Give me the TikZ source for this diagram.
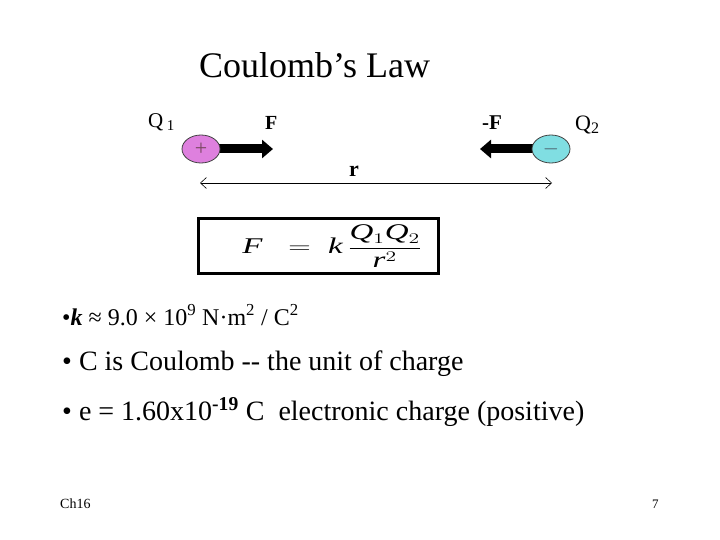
\documentclass[tikz,border=0pt]{standalone}
\usepackage{fontspec}
\setmainfont{Liberation Serif}
\usetikzlibrary{arrows.meta,positioning,shapes.geometric}

\definecolor{qpos}{RGB}{222,128,222}
\definecolor{qneg}{RGB}{128,222,226}
\newcommand{\fsz}[1]{\fontsize{#1}{#1}\selectfont}

\begin{document}
\begin{tikzpicture}[
    x=1pt, y=-1pt,
    txt/.style={inner sep=0pt, anchor=base west},
    charge/.style={ellipse, draw=black!75, line width=0.8pt, minimum width=38pt, minimum height=28pt, inner sep=0pt, font=\fsz{22}},
    force/.style={line width=9pt, -{Triangle[length=11pt,width=18pt]}},
    lbl/.style={txt, font=\fsz{20}\bfseries},
    qlbl/.style={txt, font=\fsz{21}},
    bullet/.style={txt, font=\fsz{28}}
  ]
  \useasboundingbox (0,0) rectangle (720,540);

  % title
  \node[txt, font=\fsz{36}] (title) at (199,78) {Coulomb’s Law};

  % the two charges
  \coordinate (f1tip) at (273,149);
  \coordinate (f2tip) at (480,149);
  \draw[force] (201,149) -- (f1tip);
  \draw[force] (551,149) -- (f2tip);
  \node[charge, fill=qpos, text=black!60!magenta] (q1) at (201,149) {+};
  \node[charge, fill=qneg, text=black!70!cyan] (q2) at (551,149) {$-$};

  \node[qlbl] (q1lbl) at (148,128) {Q\,\raisebox{-3pt}{\fsz{15}1}};
  \node[qlbl, font=\fsz{22}] (q2lbl) at (575,131) {Q\raisebox{-3pt}{\fsz{16}2}};
  \node[lbl] (flbl) at (265,130) {F};
  \node[lbl, font=\fsz{21}\bfseries] (mflbl) at (482,130) {-F};

  % separation r
  \coordinate (rl) at (200,183);
  \coordinate (rr) at (552,183);
  \draw[line width=0.6pt, {Straight Barb[length=6pt,width=11pt]}-{Straight Barb[length=6pt,width=11pt]}] (rl) -- (rr);
  \node[lbl, font=\fsz{22}\bfseries] (rlbl) at (349,177) {r};

  % the law
  \node[draw, line width=3pt, minimum width=240pt, minimum height=55pt] (law) at (318.5,246) {};
  \node[font=\fsz{22}, inner sep=0pt] (eq) at (332,246)
    {\scalebox{1.5}[1.02]{$\textit{F}\;\;=\;\textit{k}\,\displaystyle\frac{\textit{Q}_{1}\textit{Q}_{2}}{\textit{r}^{2}}$}};

  % bullets
  \node[txt, font=\fsz{24}] (kval) at (62,325)
    {•\textbf{\textit{k}} ≈ 9.0 × 10\textsuperscript{9} N·m\textsuperscript{2} / C\textsuperscript{2}};
  \node[bullet] (unit) at (62,370) {• C is Coulomb -{}- the unit of charge};
  \node[bullet] (echg) at (62,420)
    {• e = 1.60x10\textsuperscript{\textbf{-19}} C\ \ electronic charge (positive)};

  % footer
  \node[txt, font=\fsz{14}] (chap) at (60,508) {Ch16};
  \node[txt, font=\fsz{13}] (page) at (652,508) {7};
\end{tikzpicture}
\end{document}
